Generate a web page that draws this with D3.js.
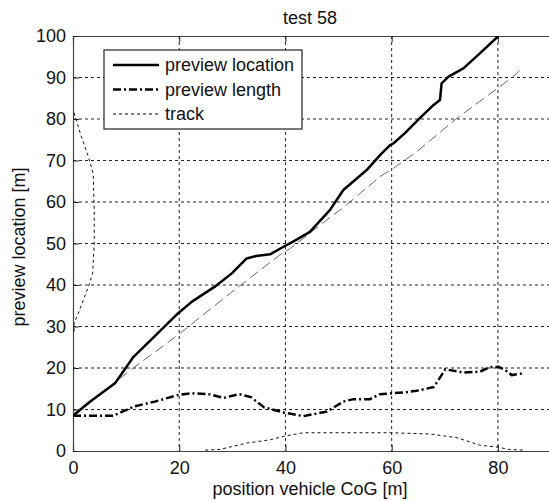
<!DOCTYPE html>
<html>
<head>
<meta charset="utf-8">
<script src="https://cdn.jsdelivr.net/npm/d3@7"></script>
<style>
  body { margin: 0; background: #fff; }
  text { font-family: "Liberation Sans", Arial, sans-serif; fill: #111; }
</style>
</head>
<body>
<svg id="chart"></svg>
<script>
const width = 549;
const height = 501;

// preview location [x, y]
const previewLocation = [
  [0, 8.5], [3, 11.7], [7.9, 16.3], [11.4, 22.7], [15.5, 27.8], [19.8, 33.2], [22.4, 36.0],
  [26.7, 39.6], [29.9, 42.8], [32.7, 46.4], [34.5, 47.0], [37.1, 47.4], [39.9, 49.4],
  [42.2, 51.0], [44.6, 52.8], [48.4, 58.1], [50.9, 62.9], [55.3, 67.7], [57.8, 71.3],
  [59.7, 73.7], [60.3, 74.1], [62.5, 76.6], [65.3, 80.2], [67.9, 83.4], [69.1, 84.6],
  [69.4, 88.6], [70.7, 90.2], [73.5, 92.2], [76.6, 95.8], [80.1, 100]
];

// preview length [x, y]
const previewLength = [
  [0, 8.5], [7.6, 8.5], [9.5, 9.6], [11.7, 10.8], [15.4, 11.9], [19.8, 13.5], [22.4, 13.9],
  [25.5, 13.7], [28.4, 12.8], [31.2, 13.7], [33.5, 13.0], [36.0, 10.5], [39.6, 9.3],
  [43.4, 8.4], [47.8, 9.5], [50.9, 11.9], [52.8, 12.5], [55.9, 12.5], [57.8, 13.7],
  [62.2, 14.1], [64.7, 14.5], [67.9, 15.4], [68.8, 17.1], [70.1, 19.7], [73.5, 18.9],
  [76.6, 19.1], [78.5, 20.2], [80.1, 20.3], [81.4, 19.5], [82.6, 18.3], [84.5, 18.7]
];

// track, two pieces [x, y]
const trackLeft = [
  [0.2, 81.5], [1.5, 76.0], [2.9, 70.9], [3.8, 66.9], [4.0, 58.1], [4.0, 50.0],
  [3.7, 42.8], [2.9, 39.6], [1.0, 33.2], [0.2, 30.8], [0.2, 28.8]
];
const trackBottom = [
  [24.9, 0.2], [27.7, 0.4], [32.7, 1.9], [37.1, 2.7], [39.9, 3.6], [43.4, 4.4],
  [49.7, 4.4], [59.7, 4.4], [67.2, 4.1], [72.3, 3.2], [76.6, 1.4], [80.1, 0.9],
  [82.0, 0.4], [84.8, 0.2]
];

// thin grey dashed reference
const reference = [
  [0, 8.3], [10.4, 19.1], [19.8, 28.0], [29.6, 38.0], [39.3, 47.6], [40.9, 48.8],
  [47.8, 55.7], [51.5, 59.3], [57.8, 66.1], [60.3, 68.1], [64.7, 72.1], [72.3, 80.2],
  [82.9, 90.2], [84.5, 92.2]
];

const xTicks = [0, 20, 40, 60, 80];
const yTicks = [0, 10, 20, 30, 40, 50, 60, 70, 80, 90, 100];

const margin = { left: 73, right: 551, top: 36, bottom: 451 };

const svg = d3.select('#chart').attr('width', width).attr('height', height);

const x = d3.scaleLinear().domain([0, 90]).range([margin.left, margin.right]);
const y = d3.scaleLinear().domain([0, 100]).range([margin.bottom, margin.top]);

svg.append('defs').append('clipPath').attr('id', 'clip')
  .append('rect')
  .attr('x', margin.left).attr('y', margin.top)
  .attr('width', margin.right - margin.left)
  .attr('height', margin.bottom - margin.top);

// grid
const grid = svg.append('g');
grid.selectAll('.vgrid')
  .data(xTicks.filter(d => d > 0))
  .enter().append('line')
  .attr('x1', d => x(d)).attr('x2', d => x(d))
  .attr('y1', margin.top).attr('y2', margin.bottom)
  .attr('stroke', '#222').attr('stroke-width', 1)
  .attr('stroke-dasharray', '3,3');
grid.selectAll('.hgrid')
  .data(yTicks.filter(d => d > 0 && d < 100))
  .enter().append('line')
  .attr('x1', margin.left).attr('x2', margin.right)
  .attr('y1', d => y(d)).attr('y2', d => y(d))
  .attr('stroke', '#222').attr('stroke-width', 1)
  .attr('stroke-dasharray', '3,3');

// axes
const xAxis = d3.axisBottom(x).tickValues(xTicks).tickSize(-6).tickPadding(10);
const gx = svg.append('g').attr('transform', `translate(0,${margin.bottom})`).call(xAxis);
const xTop = d3.axisTop(x).tickValues(xTicks).tickSize(-6).tickFormat('');
const gxt = svg.append('g').attr('transform', `translate(0,${margin.top})`).call(xTop);
const yAxis = d3.axisLeft(y).tickValues(yTicks).tickSize(-6).tickPadding(7);
const gy = svg.append('g').attr('transform', `translate(${margin.left},0)`).call(yAxis);

[gx, gxt, gy].forEach(g => {
  g.select('.domain').attr('stroke', '#444').attr('stroke-width', 1.2);
  g.selectAll('.tick line').attr('stroke', '#222');
  g.selectAll('text').style('font-size', '18px').attr('fill', '#111')
    .style('font-family', '"Liberation Sans", Arial, sans-serif');
});

// lines
const line = d3.line().x(d => x(d[0])).y(d => y(d[1]));
const plot = svg.append('g').attr('clip-path', 'url(#clip)');

plot.append('path').datum(reference)
  .attr('d', line).attr('fill', 'none')
  .attr('stroke', '#666').attr('stroke-width', 1)
  .attr('stroke-dasharray', '10,5');

plot.append('path').datum(trackLeft)
  .attr('d', line).attr('fill', 'none')
  .attr('stroke', '#111').attr('stroke-width', 1)
  .attr('stroke-dasharray', '3,3');
plot.append('path').datum(trackBottom)
  .attr('d', line).attr('fill', 'none')
  .attr('stroke', '#111').attr('stroke-width', 1)
  .attr('stroke-dasharray', '3,3');

plot.append('path').datum(previewLength)
  .attr('d', line).attr('fill', 'none')
  .attr('stroke', '#000').attr('stroke-width', 2.5)
  .attr('stroke-dasharray', '8,3,2,3');

plot.append('path').datum(previewLocation)
  .attr('d', line).attr('fill', 'none')
  .attr('stroke', '#000').attr('stroke-width', 2.5)
  .attr('stroke-linejoin', 'round');

// title and labels
svg.append('text')
  .attr('x', 310).attr('y', 24)
  .attr('text-anchor', 'middle')
  .style('font-size', '18px')
  .text('test 58');

svg.append('text')
  .attr('x', 310).attr('y', 495)
  .attr('text-anchor', 'middle')
  .style('font-size', '18px')
  .text('position vehicle CoG [m]');

svg.append('text')
  .attr('transform', `translate(25,247) rotate(-90)`)
  .attr('text-anchor', 'middle')
  .style('font-size', '18px')
  .text('preview location [m]');

// legend
const legendItems = [
  { name: 'preview location', dash: null, w: 2.5 },
  { name: 'preview length', dash: '8,3,2,3', w: 2.5 },
  { name: 'track', dash: '3,3', w: 1 }
];
const lg = svg.append('g');
lg.append('rect')
  .attr('x', 104).attr('y', 50).attr('width', 198).attr('height', 79)
  .attr('fill', '#fff').attr('stroke', '#222').attr('stroke-width', 1.2);

const rows = lg.selectAll('.row').data(legendItems).enter().append('g')
  .attr('transform', (d, i) => `translate(0,${65 + i * 24.5})`);
rows.append('line')
  .attr('x1', 113).attr('x2', 159).attr('y1', 0).attr('y2', 0)
  .attr('stroke', '#000')
  .attr('stroke-width', d => d.w)
  .attr('stroke-dasharray', d => d.dash);
rows.append('text')
  .attr('x', 165).attr('y', 0)
  .attr('dy', '0.35em')
  .style('font-size', '18px')
  .text(d => d.name);
</script>
</body>
</html>
